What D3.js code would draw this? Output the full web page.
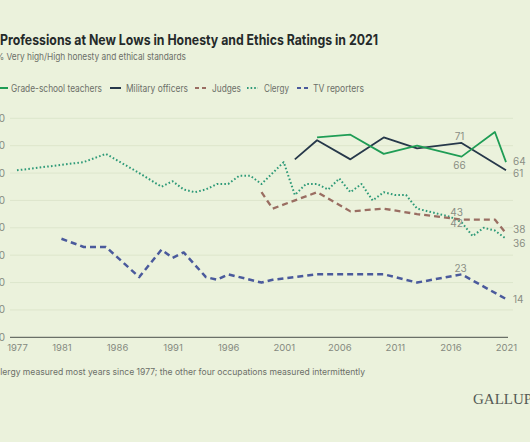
<!DOCTYPE html>
<html><head><meta charset="utf-8">
<script src="https://cdn.jsdelivr.net/npm/d3@7"></script>
<style>
html,body{margin:0;padding:0;background:#ebf2dc;}
svg{display:block;font-family:Inter,"Noto Sans",sans-serif;}
</style></head>
<body><svg id="c" width="530" height="442"></svg>
<script>
const yTicks = [0,10,20,30,40,50,60,70,80];
const xTicks = [1977,1981,1986,1991,1996,2001,2006,2011,2016,2021];

const teacherYears = [2004,2007,2010,2013,2017,2020,2021];
const teacherVals  = [73,74,67,70,66,75,64];

const militaryYears = [2002,2004,2007,2010,2013,2017,2021];
const militaryVals  = [65,72,65,73,69,71,61];

const judgeYears = [1999,2000,2004,2007,2010,2013,2017,2020,2021];
const judgeVals  = [53,47,53,46,47,45,43,43,38];

const clergyYears = [1977,1981,1983,1985,1988,1990,1991,1992,1993,1994,1995,1996,1997,1998,1999,2000,2001,2002,2003,2004,2005,2006,2007,2008,2009,2010,2011,2012,2013,2014,2015,2016,2017,2018,2019,2020,2021];
const clergyVals  = [61,63,64,67,60,55,57,54,53,54,56,56,59,59,56,60,64,52,56,56,54,58,53,56,50,53,52,52,47,46,45,44,42,37,40,39,36];

const tvYears = [1981,1983,1985,1988,1990,1991,1992,1994,1995,1996,1999,2000,2004,2010,2013,2017,2021];
const tvVals  = [36,33,33,22,32,29,31,22,21,23,20,21,23,23,20,23,14];

const legendNames = ["Grade-school teachers","Military officers","Judges","Clergy","TV reporters"];

const svg = d3.select("#c");
const x = d3.scaleLinear().domain([1977,2021]).range([17,506]);
const y = d3.scaleLinear().domain([0,80]).range([337.3,118.3]);

// squeeze a text horizontally to the target width (reference font is narrower)
function fit(sel, width){
  return sel.attr("textLength", width).attr("lengthAdjust","spacingAndGlyphs");
}

// title etc
fit(svg.append("text").attr("x",0).attr("y",45).attr("font-size",14.5).attr("font-weight",700).attr("fill","#252a2a")
  .text("Professions at New Lows in Honesty and Ethics Ratings in 2021"), 378);
fit(svg.append("text").attr("x",-4).attr("y",60).attr("font-size",9.5).attr("fill","#6b6f68")
  .text("% Very high/High honesty and ethical standards"), 190);

// gridlines
svg.append("g").selectAll("line").data(yTicks.filter(d=>d>0)).join("line")
  .attr("x1",10).attr("x2",513).attr("y1",d=>y(d)).attr("y2",d=>y(d))
  .attr("stroke","#dde6cc").attr("stroke-width",1);
svg.append("g").selectAll("text").data(yTicks).join("text")
  .attr("x",5).attr("y",d=>y(d)+3.5).attr("text-anchor","end").attr("font-size",10).attr("fill","#858a80").text(d=>d);
svg.append("line").attr("x1",10).attr("x2",508).attr("y1",y(0)).attr("y2",y(0)).attr("stroke","#4a4f4a").attr("stroke-width",1);

const xAxis = d3.axisBottom(x).tickValues(xTicks).tickFormat(d3.format("d")).tickSize(0).tickPadding(7);
const gx = svg.append("g").attr("transform",`translate(0,${y(0)})`).call(xAxis);
gx.select(".domain").remove();
gx.selectAll("text").attr("font-size",9.5).attr("fill","#858a80").attr("font-family","Inter,'Noto Sans',sans-serif");

const series = [
  {years:clergyYears, vals:clergyVals, color:"#2e9a78", w:2, dash:"1.6,2.2"},
  {years:tvYears, vals:tvVals, color:"#4a5a9c", w:2.5, dash:"6,4"},
  {years:judgeYears, vals:judgeVals, color:"#9a6e62", w:2.3, dash:"6,4"},
  {years:militaryYears, vals:militaryVals, color:"#26384a", w:1.8, dash:null},
  {years:teacherYears, vals:teacherVals, color:"#1f9d55", w:1.8, dash:null}
];
const line = d3.line().x(d=>x(d[0])).y(d=>y(d[1]));
series.forEach(s=>{
  svg.append("path").datum(s.years.map((yr,i)=>[yr,s.vals[i]]))
    .attr("d",line).attr("fill","none").attr("stroke",s.color).attr("stroke-width",s.w)
    .attr("stroke-dasharray",s.dash).attr("stroke-linejoin","round");
});

// value labels
const lab = (t,xx,yy,anchor)=>svg.append("text").attr("x",xx).attr("y",yy).attr("font-size",10).attr("fill","#8a8e84").attr("text-anchor",anchor||"middle").text(t);
const ex = x(2021)+7;
lab(teacherVals[6], ex, 164.5, "start");
lab(militaryVals[6], ex, 176.5, "start");
lab(judgeVals[8], ex, 233, "start");
lab(clergyVals[36], ex, 247, "start");
lab(tvVals[16], ex, 303, "start");
lab(militaryVals[5], x(2017)-2, 140);
lab(teacherVals[4], x(2017)-2, 169);
lab(judgeVals[6], x(2017)-5, 216);
lab(clergyVals[32], x(2017)-5, 227);
lab(tvVals[15], x(2017)-1, 272);

// legend
const legX = [[-1,8,11,91],[110,121,126,62],[195,207,212,29],[247,258,264,25],[297,308,313,51]];
const legStyle = [series[4],series[3],series[2],series[0],series[1]];
legendNames.forEach((n,i)=>{
  const [a,b,t,w] = legX[i];
  const s = legStyle[i];
  svg.append("line").attr("x1",a).attr("x2",b).attr("y1",88).attr("y2",88)
    .attr("stroke",s.color).attr("stroke-width",2).attr("stroke-dasharray",s.dash? (i===3?"1.6,2":"4,3"):null);
  fit(svg.append("text").attr("x",t).attr("y",91.5).attr("font-size",10).attr("fill","#6b6f68").text(n), w);
});

fit(svg.append("text").attr("x",-6).attr("y",375).attr("font-size",9).attr("fill","#6b6f68")
  .text("Clergy measured most years since 1977; the other four occupations measured intermittently"), 371);
svg.append("text").attr("x",473).attr("y",404).attr("font-size",15).attr("fill","#555a55")
  .attr("font-family","'Liberation Serif','DejaVu Serif',serif").text("GALLUP");
</script></body></html>
